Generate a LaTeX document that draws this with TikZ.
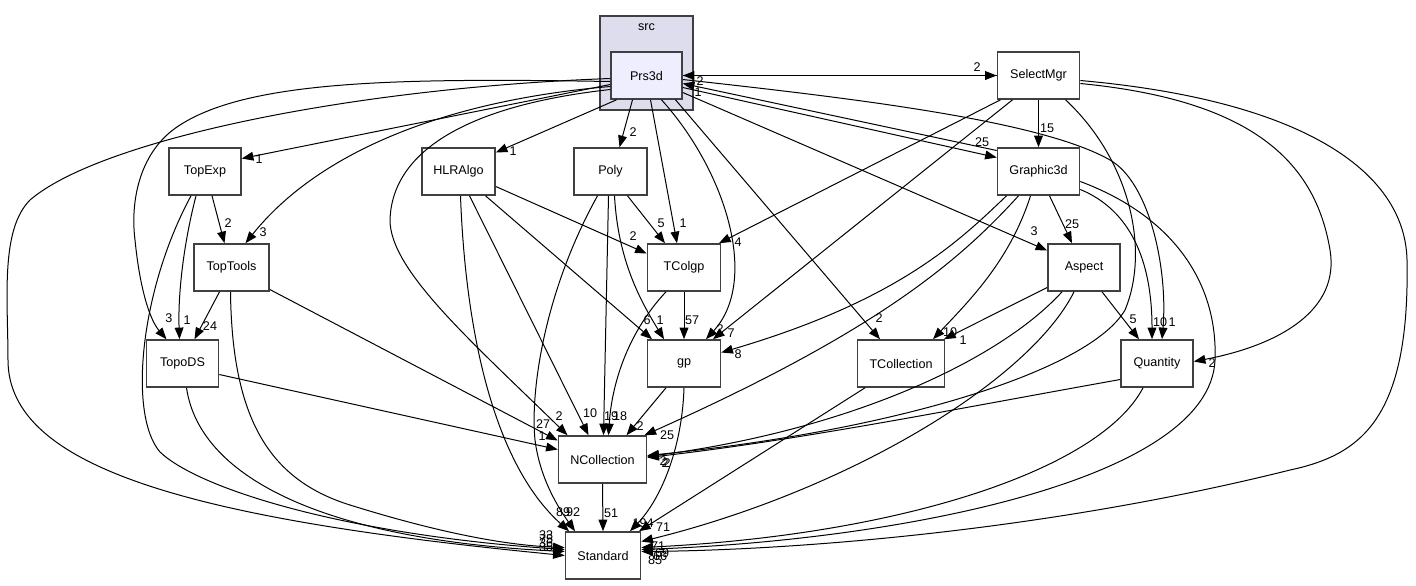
\documentclass[tikz,border=0pt]{standalone}
\usepackage{fontspec}
\setmainfont{Liberation Sans}
\usetikzlibrary{arrows.meta}
\definecolor{clusterfill}{HTML}{DDDDEE}
\definecolor{mainfill}{HTML}{EEEEFF}
\definecolor{boxline}{HTML}{404040}

\begin{document}
\begin{tikzpicture}[x=0.5pt,y=-0.5pt,
  dirbox/.style={draw=boxline,line width=0.8pt,fill=white,minimum height=23.5pt,inner sep=0pt,font=\fontsize{6.3}{7}\selectfont},
  dep/.style={line width=0.5pt,-{Triangle[length=5.8pt,width=4.4pt]}},
  lbl/.style={inner sep=0pt,font=\fontsize{6.3}{7}\selectfont}]
\useasboundingbox (0,0) rectangle (1416,585);
\node[draw=boxline,line width=0.8pt,fill=clusterfill,minimum width=46.5pt,minimum height=47pt] (src) at (646.5,63) {};
\node[lbl] (srclabel) at (646.5,27) {src};
\node[dirbox,fill=mainfill,minimum width=35.5pt] (Prs3d) at (646.5,75.5) {Prs3d};
\node[dirbox,minimum width=41pt] (SelectMgr) at (1038.5,75.5) {SelectMgr};
\node[dirbox,minimum width=36pt] (TopExp) at (205,171.5) {TopExp};
\node[dirbox,minimum width=36.5pt] (HLRAlgo) at (458.5,171.5) {HLRAlgo};
\node[dirbox,minimum width=36.5pt] (Poly) at (610.5,171.5) {Poly};
\node[dirbox,minimum width=41pt] (Graphic3d) at (1038.5,171.5) {Graphic3d};
\node[dirbox,minimum width=37.5pt] (TopTools) at (231.5,267.5) {TopTools};
\node[dirbox,minimum width=36.5pt] (TColgp) at (684,267.5) {TColgp};
\node[dirbox,minimum width=36pt] (Aspect) at (1084,267.5) {Aspect};
\node[dirbox,minimum width=36pt] (TopoDS) at (182.5,363.5) {TopoDS};
\node[dirbox,minimum width=36.5pt] (gp) at (684,363.5) {gp};
\node[dirbox,minimum width=43.5pt] (TCollection) at (901,363.5) {TCollection};
\node[dirbox,minimum width=36pt] (Quantity) at (1157,363.5) {Quantity};
\node[dirbox,minimum width=44pt] (NCollection) at (602.5,459.5) {NCollection};
\node[dirbox,minimum width=37.5pt] (Standard) at (603,555.5) {Standard};

\draw[dep] (Prs3d.east) -- (SelectMgr.west) node[lbl] at (977,67) {2};
\draw[dep] (SelectMgr.west) -- (Prs3d.east) node[lbl] at (700,81) {2};
\draw[dep] ([yshift=10.5pt]Graphic3d.west) -- ([yshift=-4pt]Prs3d.east) node[lbl] at (698,92) {1};
\draw[dep] ([yshift=-6pt]Prs3d.east) -- ([yshift=7pt]Graphic3d.west) node[lbl] at (982,142) {25};
\draw[dep] ([yshift=-2pt]Prs3d.east) .. controls (850,98) and (1040,120) .. (1110,160) .. controls (1150,183) and (1168,270) .. ([xshift=2.5pt]Quantity.north) node[lbl] at (1172,322) {1};
\draw[dep] ([yshift=-8.5pt]Prs3d.east) -- ([yshift=8.5pt]Aspect.west) node[lbl] at (1034,231) {3};
\draw[dep] ([xshift=14.5pt]Prs3d.south) -- ([xshift=-10.5pt]TCollection.north) node[lbl] at (879,318) {2};
\draw[dep] ([xshift=7.5pt]Prs3d.south) .. controls (725,170) and (760,280) .. ([xshift=11pt]gp.north) node[lbl] at (720,329) {2};
\draw[dep] ([xshift=2pt]Prs3d.south) -- ([xshift=-3.5pt]TColgp.north) node[lbl] at (683,223) {1};
\draw[dep] ([xshift=-7pt]Prs3d.south) -- ([xshift=4.5pt]Poly.north) node[lbl] at (633,132) {2};
\draw[dep] ([xshift=-15pt]Prs3d.south) -- ([yshift=9.5pt]HLRAlgo.east) node[lbl] at (513,151) {1};
\draw[dep] ([yshift=-4.5pt]Prs3d.west) -- ([yshift=6.5pt]TopExp.east) node[lbl] at (259,159) {1};
\draw[dep] ([yshift=-5.5pt]Prs3d.west) .. controls (450,100) and (320,150) .. ([xshift=7pt]TopTools.north) node[lbl] at (263,232) {3};
\draw[dep] ([yshift=-3pt]Prs3d.west) .. controls (400,78) and (250,80) .. (180,125) .. controls (140,150) and (130,200) .. (135,240) .. controls (140,290) and (150,320) .. ([xshift=-8pt]TopoDS.north) node[lbl] at (169,318) {3};
\draw[dep] ([yshift=-1.5pt]Prs3d.west) .. controls (350,88) and (100,140) .. (30,200) .. controls (0,230) and (8,300) .. (8,360) .. controls (8,470) and (200,520) .. (Standard.west) node[lbl] at (546,547) {35};
\draw[dep] ([yshift=-7pt]Prs3d.west) .. controls (470,105) and (392,150) .. (390,220) .. controls (390,270) and (470,340) .. ([xshift=-17.5pt]NCollection.north) node[lbl] at (559,416) {2};

\draw[dep] (SelectMgr.south) -- (Graphic3d.north) node[lbl] at (1047,128) {15};
\draw[dep] ([xshift=-19pt]SelectMgr.south) -- ([xshift=17.5pt]TColgp.north) node[lbl] at (738,242) {4};
\draw[dep] ([xshift=-13pt]SelectMgr.south) -- ([xshift=14.5pt]gp.north) node[lbl] at (731,333) {7};
\draw[dep] ([xshift=13.5pt]SelectMgr.south) .. controls (1130,160) and (1150,250) .. (1125,310) .. controls (1090,370) and (900,430) .. ([yshift=2pt]NCollection.east) node[lbl] at (667,463) {2};
\draw[dep] ([yshift=-4pt]SelectMgr.east) .. controls (1250,100) and (1315,160) .. (1330,250) .. controls (1340,310) and (1280,345) .. ([yshift=1pt]Quantity.east) node[lbl] at (1212,363) {2};
\draw[dep] ([yshift=-2.5pt]SelectMgr.east) .. controls (1300,100) and (1405,170) .. (1407,260) .. controls (1410,420) and (1360,455) .. (1290,470) .. controls (1050,530) and (800,550) .. ([yshift=2pt]Standard.east) node[lbl] at (655,560) {85};

\draw[dep] ([xshift=5.5pt]Graphic3d.south) -- ([xshift=-6pt]Aspect.north) node[lbl] at (1072,224) {25};
\draw[dep] ([yshift=-9pt]Graphic3d.east) .. controls (1130,210) and (1152,260) .. ([xshift=-2.5pt]Quantity.north) node[lbl] at (1160,322) {10};
\draw[dep] ([yshift=-5pt]Graphic3d.east) .. controls (1170,215) and (1218,280) .. (1215,360) .. controls (1210,480) and (900,540) .. ([yshift=3pt]Standard.east) node[lbl] at (660,556) {66};
\draw[dep] ([xshift=-16pt]Graphic3d.south) .. controls (960,240) and (900,300) .. ([yshift=5.5pt]gp.east) node[lbl] at (738,354) {8};
\draw[dep] ([xshift=-10pt]Graphic3d.south) .. controls (960,260) and (880,330) .. ([xshift=21pt]NCollection.north) node[lbl] at (667,435) {25};
\draw[dep] ([xshift=-4pt]Graphic3d.south) .. controls (1010,260) and (970,300) .. ([xshift=16pt]TCollection.north) node[lbl] at (950,332) {10};

\draw[dep] ([yshift=-10pt]Aspect.west) -- ([xshift=21.5pt]TCollection.north) node[lbl] at (963,340) {1};
\draw[dep] ([xshift=9pt]Aspect.south) -- ([xshift=-9pt]Quantity.north) node[lbl] at (1133,319) {5};
\draw[dep] ([xshift=-11pt]Aspect.south) .. controls (1000,360) and (850,430) .. ([yshift=1.5pt]NCollection.east) node[lbl] at (663,461) {2};
\draw[dep] ([xshift=-5pt]Aspect.south) .. controls (1030,380) and (850,490) .. ([yshift=7pt]Standard.east) node[lbl] at (658,546) {71};

\draw[dep] ([yshift=-8pt]Quantity.west) .. controls (950,410) and (800,440) .. ([yshift=1pt]NCollection.east) node[lbl] at (665,463) {2};
\draw[dep] ([xshift=-7pt]Quantity.south) .. controls (1100,470) and (900,535) .. ([yshift=4pt]Standard.east) node[lbl] at (662,553) {69};

\draw[dep] ([xshift=-18pt]TCollection.south) -- ([xshift=18pt]Standard.north) node[lbl] at (663,527) {71};
\draw[dep] (gp.south) .. controls (682,450) and (660,500) .. ([xshift=13.5pt]Standard.north) node[lbl] at (643,523) {194};
\draw[dep] ([xshift=-9pt]gp.south) -- ([xshift=12pt]NCollection.north) node[lbl] at (640,426) {2};
\draw[dep] (TColgp.south) -- (gp.north) node[lbl] at (692,320) {57};
\draw[dep] ([xshift=-9pt]TColgp.south) .. controls (630,330) and (612,380) .. ([xshift=3pt]NCollection.north) node[lbl] at (620,416) {18};

\draw[dep] ([xshift=8.5pt]Poly.south) -- ([xshift=-9.5pt]TColgp.north) node[lbl] at (661,223) {5};
\draw[dep] ([xshift=2pt]Poly.south) .. controls (618,260) and (640,300) .. ([xshift=-10pt]gp.north) node[lbl] at (660,320) {1};
\draw[dep] ([xshift=-1pt]Poly.south) -- ([xshift=0.5pt]NCollection.north) node[lbl] at (611,416) {19};
\draw[dep] ([xshift=-6.5pt]Poly.south) .. controls (545,290) and (530,390) .. (535,440) .. controls (540,480) and (560,510) .. ([xshift=-14pt]Standard.north) node[lbl] at (573,512) {92};

\draw[dep] ([yshift=-7.5pt]HLRAlgo.east) -- ([yshift=7pt]TColgp.west) node[lbl] at (633,236) {2};
\draw[dep] ([xshift=13.5pt]HLRAlgo.south) -- ([xshift=-16pt]gp.north) node[lbl] at (647,320) {6};
\draw[dep] ([xshift=5.5pt]HLRAlgo.south) -- ([xshift=-7pt]NCollection.north) node[lbl] at (590,413) {10};
\draw[dep] ([xshift=1pt]HLRAlgo.south) .. controls (465,320) and (490,460) .. ([xshift=-17pt]Standard.north) node[lbl] at (563,512) {89};

\draw[dep] ([xshift=3.5pt]TopExp.south) -- ([xshift=-3.5pt]TopTools.north) node[lbl] at (228,223) {2};
\draw[dep] ([xshift=-4.5pt]TopExp.south) .. controls (182,250) and (178,300) .. ([xshift=-1.5pt]TopoDS.north) node[lbl] at (187,320) {1};
\draw[dep] ([xshift=-7pt]TopExp.south) .. controls (140,290) and (128,415) .. (160,452) .. controls (200,490) and (350,535) .. ([yshift=3pt]Standard.west) node[lbl] at (546,535) {33};

\draw[dep] ([xshift=-6pt]TopTools.south) -- ([xshift=6pt]TopoDS.north) node[lbl] at (210,326) {24};
\draw[dep] ([xshift=-0.5pt]TopTools.south) .. controls (232,420) and (270,480) .. (350,505) .. controls (430,530) and (500,545) .. ([yshift=4pt]Standard.west) node[lbl] at (546,539) {75};
\draw[dep] ([yshift=-11pt]TopTools.east) -- ([yshift=9.5pt]NCollection.west) node[lbl] at (543,424) {27};

\draw[dep] ([yshift=-5.5pt]TopoDS.east) -- ([yshift=5pt]NCollection.west) node[lbl] at (542,436) {1};
\draw[dep] ([xshift=2pt]TopoDS.south) .. controls (200,480) and (330,540) .. ([yshift=2pt]Standard.west) node[lbl] at (546,543) {36};

\draw[dep] (NCollection.south) -- (Standard.north) node[lbl] at (611,513) {51};
\end{tikzpicture}
\end{document}
